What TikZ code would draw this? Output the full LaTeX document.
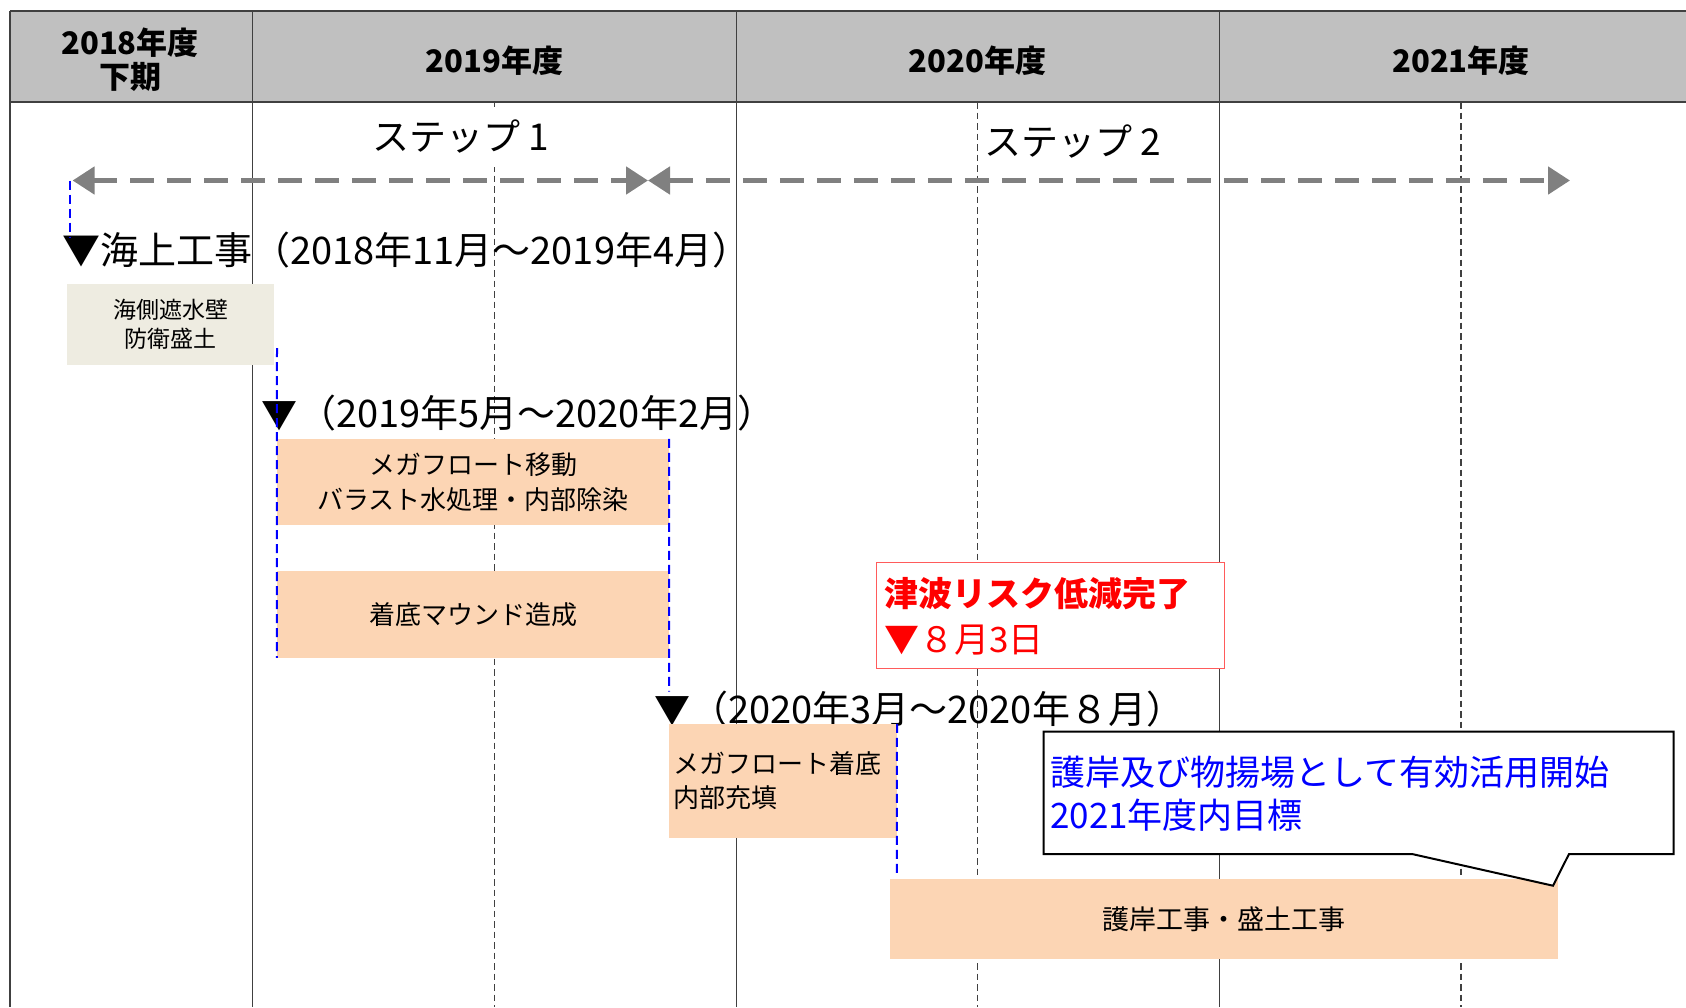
\documentclass[tikz,border=0pt]{standalone}
\usepackage{fontspec}
\setmainfont{Noto Sans CJK JP}
\usetikzlibrary{arrows.meta}
\definecolor{hdrfill}{HTML}{C0C0C0}
\definecolor{gridc}{HTML}{404040}
\definecolor{beigefill}{HTML}{EEECE1}
\definecolor{peachfill}{HTML}{FCD5B4}
\definecolor{arrgray}{HTML}{808080}
\definecolor{riskborder}{HTML}{FF5B5B}
\definecolor{txtblue}{HTML}{0000FF}
\definecolor{txtred}{HTML}{FF0000}
\newcommand{\fsz}[2]{\fontsize{#1}{#2}\selectfont}
\begin{document}
\begin{tikzpicture}[x=1pt,y=-1pt,
  gridsolid/.style={draw=gridc,line width=1.3pt},
  griddash/.style={draw=gridc,line width=1.1pt,dash pattern=on 6.5pt off 4pt},
  bluedash/.style={draw=txtblue,line width=2pt,dash pattern=on 9pt off 5pt},
  steparrow/.style={draw=arrgray,line width=5pt,dash pattern=on 24pt off 13pt,
     {Triangle[length=22pt,width=27pt]}-{Triangle[length=22pt,width=27pt]}},
  hdrtxt/.style={font=\fsz{31}{34}\bfseries,align=center,inner sep=0pt},
  steptxt/.style={font=\fsz{37}{37},inner sep=0pt,fill=white},
  lbl/.style={font=\fsz{38}{38},inner sep=0pt,anchor=west},
  marker/.style={font=\fsz{36}{36},inner sep=0pt},
  taskbox/.style={fill=peachfill,inner sep=0pt,align=center},
]
\useasboundingbox (0,0) rectangle (1686,1007);
\fill[white] (0,0) rectangle (1686,1007);
% header band
\fill[hdrfill] (10,11) rectangle (1686,102);
\foreach \x in {494.6,977.5,1461} \draw[griddash] (\x,102) -- (\x,1007);
\foreach \x in {10,252.7,736.6,1219.5} \draw[gridsolid] (\x,11) -- (\x,1007);
\draw[draw=gridc,line width=2.2pt] (10,11) -- (1686,11) (10,102) -- (1686,102);
\node[hdrtxt] (h18) at (130,60) {2018年度\\下期};
\node[hdrtxt] (h19) at (494.6,61) {2019年度};
\node[hdrtxt] (h20) at (977.5,61) {2020年度};
\node[hdrtxt] (h21) at (1461,61) {2021年度};
% steps
\node[steptxt,minimum height=60pt] (st1) at (461,137) {ステップ 1};
\node[steptxt] (st2) at (1072.6,141.7) {ステップ 2};
\coordinate (s1l) at (72.6,180.5);
\coordinate (s1r) at (648,180.5);
\coordinate (s2r) at (1570,180.5);
\draw[steparrow] (s1l) -- (s1r);
\draw[steparrow] (s1r) -- (s2r);
% labels
\node[lbl] (sea) at (62,250) {▼海上工事（2018年11月～2019年4月）};
\node[marker] (m2) at (279,416.5) {▼};
\node[lbl] (p2) at (298,413) {（2019年5月〜2020年2月）};
\node[marker] (m3) at (672,711) {▼};
\node[lbl] (p3) at (690,709) {（2020年3月〜2020年８月）};
% boxes
\node[fill=beigefill,inner sep=0pt,align=center,minimum width=207pt,minimum height=81pt,font=\fsz{23}{28.7}] (wall) at (170.5,324.5) {海側遮水壁\\防衛盛土};
\node[taskbox,minimum width=392pt,minimum height=86pt,font=\fsz{26}{35}] (b1) at (473,482) {メガフロート移動\\バラスト水処理・内部除染};
\node[taskbox,minimum width=392pt,minimum height=86.7pt,font=\fsz{26}{35}] (b2) at (473,614.35) {着底マウンド造成};
\node[taskbox,minimum width=227.8pt,minimum height=114pt] (b3) at (782.9,781) {};
\node[anchor=west,align=left,inner sep=0pt,font=\fsz{26}{34.7}] (b3t) at (673,780.7) {メガフロート着底\\内部充填};
\node[taskbox,minimum width=668pt,minimum height=80.3pt,font=\fsz{27}{27}] (b4) at (1224,919.2) {護岸工事・盛土工事};
% risk box
\node[draw=riskborder,fill=white,line width=1.2pt,minimum width=348.4pt,minimum height=105.6pt,inner sep=0pt] (risk) at (1050.5,615.5) {};
\node[anchor=west,align=left,inner sep=0pt,text=txtred,font=\fsz{35}{46.7}] (riskt) at (884,616.5) {{\bfseries\fsz{34}{46.7}津波リスク低減完了}\\▼８月3日};
% callout
\draw[fill=white,line width=2pt,draw=black] (1043.5,731.7) -- (1673.6,731.7) -- (1673.6,854) -- (1569,854) -- (1553,885.7) -- (1412,854) -- (1043.5,854) -- cycle;
\node[anchor=west,align=left,inner sep=0pt,text=txtblue,font=\fsz{35}{43.3}] (callt) at (1050,793.4) {護岸及び物揚場として有効活用開始\\2021年度内目標};
% blue dashed connectors
\coordinate (c1a) at (70,180.5);
\coordinate (c1b) at (70,237);
\coordinate (c2a) at (277,348);
\coordinate (c3b) at (669,691.7);
\coordinate (c4b) at (896.8,876.7);
\draw[bluedash] (c1a) -- (c1b);
\draw[bluedash] (c2a) -- (b2.south west);
\draw[bluedash] (b1.north east) -- (c3b);
\draw[bluedash] (b3.north east) -- (c4b);
\end{tikzpicture}
\end{document}
